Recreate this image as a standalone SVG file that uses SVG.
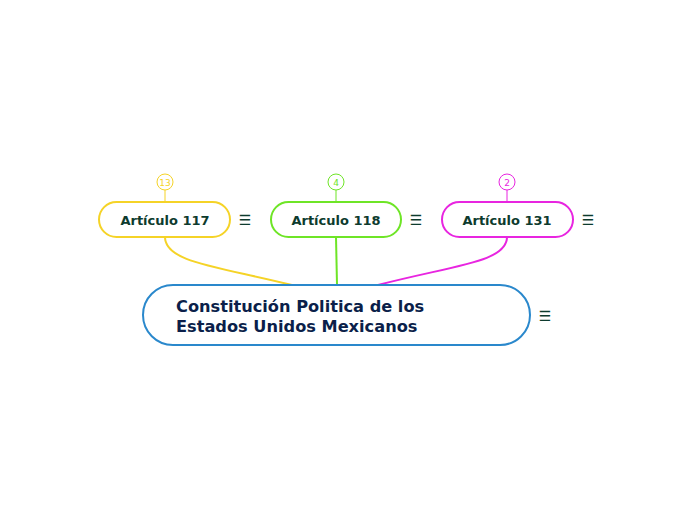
<svg xmlns="http://www.w3.org/2000/svg" width="697" height="520" viewBox="0 0 697 520">
<style>
.lbl{font-family:"DejaVu Sans",Verdana,sans-serif;font-weight:bold;fill:#0d3b2e;font-size:13px;text-anchor:middle}
.main{font-family:"DejaVu Sans",Verdana,sans-serif;font-weight:bold;fill:#0b1f4a;font-size:16.2px}
.num{font-family:"DejaVu Sans",Verdana,sans-serif;font-size:9px;text-anchor:middle}
.menu{font-family:"DejaVu Sans",sans-serif;font-size:14px;fill:#0d3b2e;text-anchor:middle}
.node{fill:#fff;stroke-width:2}
</style>
<rect width="697" height="520" fill="#fff"/>
<g id="connectors" fill="none" stroke-width="2">
<path d="M165 237 C165 262 215 266 292 285" stroke="#f5d327"/>
<path d="M336 237 L337 285" stroke="#6ee526"/>
<path d="M507 237 C507 262 455 265 378 285" stroke="#e825e0"/>
</g>
<g id="main">
<rect x="143" y="285" width="387" height="60" rx="30" class="node" stroke="#2a88cc"/>
<text x="176" y="312" class="main">Constitución Politica de los</text>
<text x="176" y="332" class="main">Estados Unidos Mexicanos</text>
<text x="545" y="321" class="menu">☰</text>
</g>
<g id="a117">
<line x1="165" y1="190" x2="165" y2="202" stroke="#f5d327" stroke-width="1"/>
<circle cx="165" cy="182" r="8" fill="#fff" stroke="#f5d327" stroke-width="1"/>
<text x="165" y="185.5" class="num" fill="#f5d327">13</text>
<rect x="99" y="202" width="131" height="35" rx="17.5" class="node" stroke="#f5d327"/>
<text x="165" y="224.5" class="lbl">Artículo 117</text>
<text x="245" y="225" class="menu">☰</text>
</g>
<g id="a118">
<line x1="336" y1="190" x2="336" y2="202" stroke="#6ee526" stroke-width="1"/>
<circle cx="336" cy="182" r="8" fill="#fff" stroke="#6ee526" stroke-width="1"/>
<text x="336" y="185.5" class="num" fill="#6ee526">4</text>
<rect x="271" y="202" width="130" height="35" rx="17.5" class="node" stroke="#6ee526"/>
<text x="336" y="224.5" class="lbl">Artículo 118</text>
<text x="416" y="225" class="menu">☰</text>
</g>
<g id="a131">
<line x1="507" y1="190" x2="507" y2="202" stroke="#e825e0" stroke-width="1"/>
<circle cx="507" cy="182" r="8" fill="#fff" stroke="#e825e0" stroke-width="1"/>
<text x="507" y="185.5" class="num" fill="#e825e0">2</text>
<rect x="442" y="202" width="131" height="35" rx="17.5" class="node" stroke="#e825e0"/>
<text x="507" y="224.5" class="lbl">Artículo 131</text>
<text x="588" y="225" class="menu">☰</text>
</g>
</svg>
